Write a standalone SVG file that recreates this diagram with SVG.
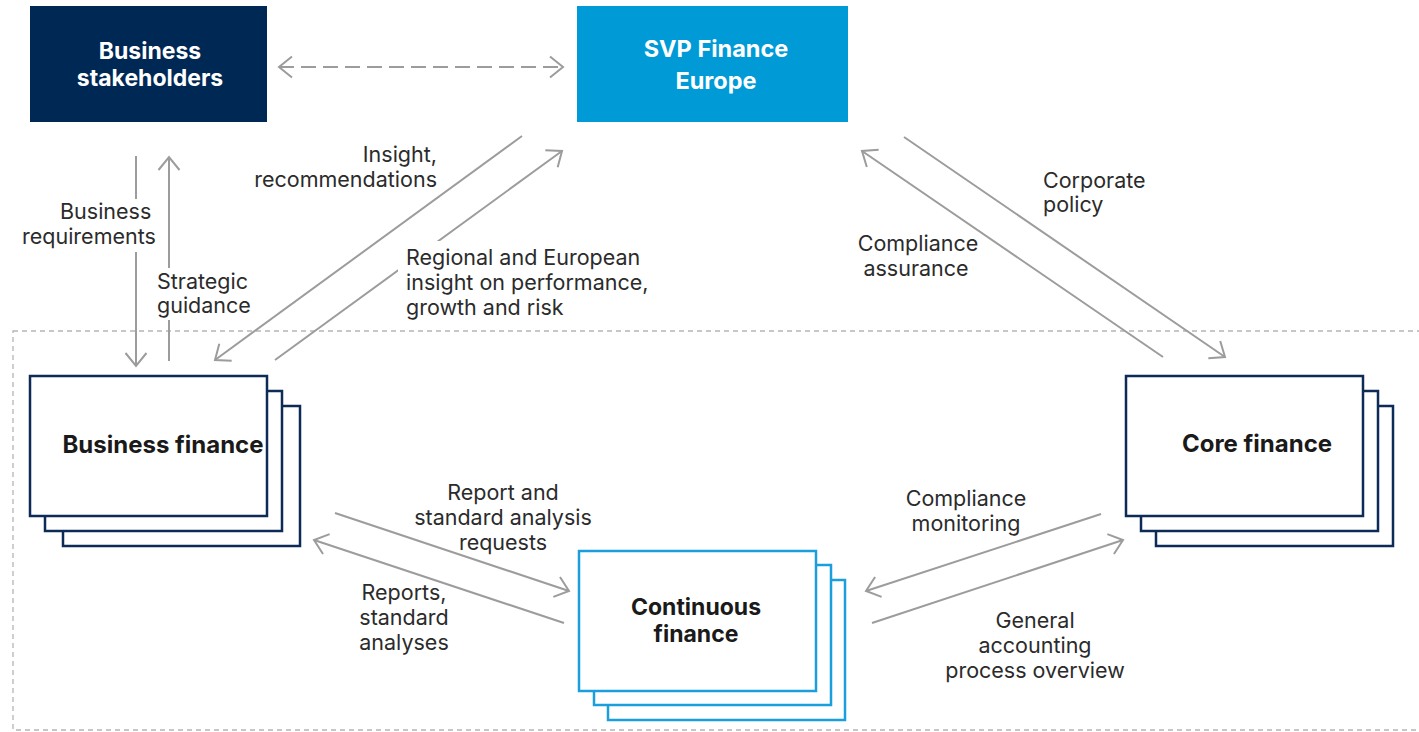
<svg xmlns="http://www.w3.org/2000/svg" width="1419" height="732" viewBox="0 0 1419 732">
<defs>
<style>
.lbl{font-family:Inter,"Liberation Sans",sans-serif;font-size:21.5px;fill:#2b2b2b}
.mid{text-anchor:middle}
.end{text-anchor:end}
.hd{font-family:Inter,"Liberation Sans",sans-serif;font-weight:700;font-size:23.5px;fill:#ffffff;text-anchor:middle}
.nt{font-family:Inter,"Liberation Sans",sans-serif;font-weight:700;font-size:24px;fill:#1a1a1a;text-anchor:middle}
.sm{font-size:23px}
.cn{fill:none;stroke:#9c9c9c;stroke-width:2}
.dash{stroke-dasharray:15 7}
.bg{fill:#ffffff}
.nv{fill:#ffffff;stroke:#0d2b57;stroke-width:2.5}
.lb{fill:#ffffff;stroke:#1a9fdc;stroke-width:2.5}
</style>
<marker id="ah" viewBox="-16 -13 18 26" refX="0" refY="0" markerWidth="18" markerHeight="26" markerUnits="userSpaceOnUse" orient="auto-start-reverse">
<path d="M-13,-10.5 L0,0 L-13,10.5" fill="none" stroke="#9c9c9c" stroke-width="2"/>
</marker>
</defs>
<rect width="1419" height="732" fill="#ffffff"/>
<rect id="region" x="13" y="331" width="1420" height="399" fill="none" stroke="#b5b5b5" stroke-width="1.3" stroke-dasharray="5 4"/>
<g id="connectors">
<path class="cn dash" d="M279,67 L563,67" marker-start="url(#ah)" marker-end="url(#ah)"/>
<path class="cn" d="M136,156 L136,366" marker-end="url(#ah)"/>
<path class="cn" d="M169,361 L169,157" marker-end="url(#ah)"/>
<path class="cn" d="M522,136 L215,360" marker-end="url(#ah)"/>
<path class="cn" d="M275,360 L562,151" marker-end="url(#ah)"/>
<path class="cn" d="M1163,357 L862,151" marker-end="url(#ah)"/>
<path class="cn" d="M904,137 L1225,357" marker-end="url(#ah)"/>
<path class="cn" d="M335,513 L569,591" marker-end="url(#ah)"/>
<path class="cn" d="M564,623 L314,540" marker-end="url(#ah)"/>
<path class="cn" d="M1101,514 L866,591" marker-end="url(#ah)"/>
<path class="cn" d="M872,623 L1123,540" marker-end="url(#ah)"/>
</g>
<g id="labels">
<rect class="bg" x="18" y="199" width="142" height="53"/>
<text class="lbl" x="60" y="219">Business</text>
<text class="lbl" x="22" y="244">requirements</text>
<rect class="bg" x="155" y="268" width="100" height="52"/>
<text class="lbl" x="157" y="289">Strategic</text>
<text class="lbl" x="157" y="313">guidance</text>
<text class="lbl end" x="437" y="162">Insight,</text>
<text class="lbl end" x="437" y="187">recommendations</text>
<rect class="bg" x="398" y="241" width="255" height="81"/>
<text class="lbl" x="406" y="265">Regional and European</text>
<text class="lbl" x="406" y="290">insight on performance,</text>
<text class="lbl" x="406" y="315">growth and risk</text>
<text class="lbl mid" x="918" y="251">Compliance</text>
<text class="lbl mid" x="916" y="276">assurance</text>
<text class="lbl" x="1043" y="188">Corporate</text>
<text class="lbl" x="1043" y="212">policy</text>
<text class="lbl mid" x="503" y="500">Report and</text>
<text class="lbl mid" x="503" y="525">standard analysis</text>
<text class="lbl mid" x="503" y="550">requests</text>
<text class="lbl mid" x="404" y="600">Reports,</text>
<text class="lbl mid" x="404" y="625">standard</text>
<text class="lbl mid" x="404" y="650">analyses</text>
<text class="lbl mid" x="966" y="506">Compliance</text>
<text class="lbl mid" x="966" y="531">monitoring</text>
<text class="lbl mid" x="1035" y="628">General</text>
<text class="lbl mid" x="1035" y="653">accounting</text>
<text class="lbl mid" x="1035" y="678">process overview</text>
</g>
<g id="business-stakeholders">
<rect x="30" y="6" width="237" height="116" fill="#002855"/>
<text class="hd sm" x="150" y="59">Business</text>
<text class="hd sm" x="150" y="86">stakeholders</text>
</g>
<g id="svp-finance-europe">
<rect x="577" y="6" width="271" height="116" fill="#009ad6"/>
<text class="hd" x="716" y="57">SVP Finance</text>
<text class="hd" x="716" y="89">Europe</text>
</g>
<g id="business-finance">
<rect class="nv" x="63" y="406" width="237" height="140"/>
<rect class="nv" x="45" y="391" width="237" height="140"/>
<rect class="nv" x="30" y="376" width="237" height="140"/>
<text class="nt" x="163" y="453">Business finance</text>
</g>
<g id="core-finance">
<rect class="nv" x="1156" y="406" width="237" height="140"/>
<rect class="nv" x="1141" y="391" width="237" height="140"/>
<rect class="nv" x="1126" y="376" width="237" height="140"/>
<text class="nt" x="1257" y="452">Core finance</text>
</g>
<g id="continuous-finance">
<rect class="lb" x="608" y="580" width="237" height="140"/>
<rect class="lb" x="594" y="565" width="237" height="140"/>
<rect class="lb" x="579" y="551" width="237" height="140"/>
<text class="nt sm" x="696" y="615">Continuous</text>
<text class="nt sm" x="696" y="642">finance</text>
</g>
</svg>
